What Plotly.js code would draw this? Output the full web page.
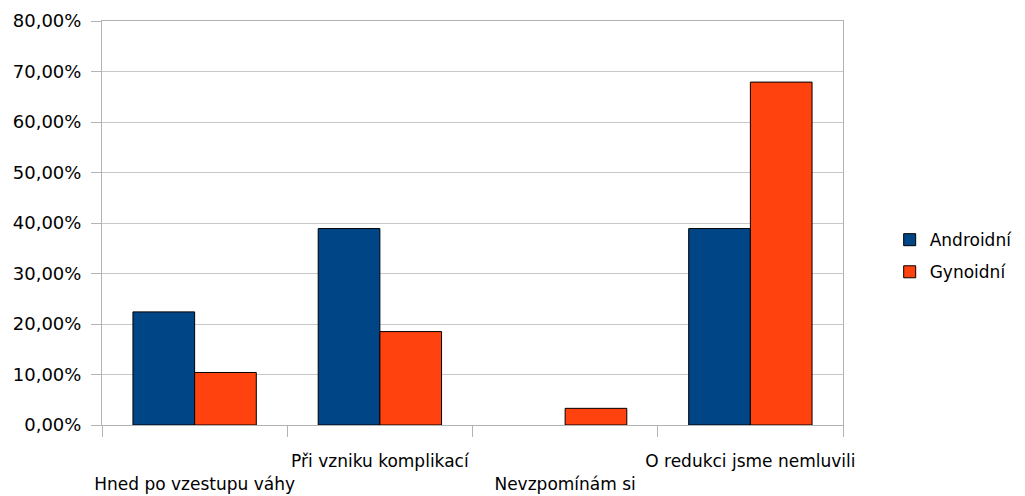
<!DOCTYPE html>
<html>
<head>
<meta charset="utf-8">
<script src="https://cdn.plot.ly/plotly-3.0.1.min.js"></script>
<style>
  html, body { margin: 0; padding: 0; background: #ffffff; }
  #chart { width: 1025px; height: 496px; }
</style>
</head>
<body>
<div id="chart"></div>
<script>
// Category labels (x axis)
const categories = [
  "Hned po vzestupu váhy",
  "Při vzniku komplikací",
  "Nevzpomínám si",
  "O redukci jsme nemluvili"
];

// Series names
const seriesNames = ["Androidní", "Gynoidní"];

// Shares per category (fractions of 1)
const androidni = [0.224, 0.389, 0, 0.389];
const gynoidni = [0.104, 0.185, 0.033, 0.679];

// Y axis tick values
const yTicks = [0, 0.1, 0.2, 0.3, 0.4, 0.5, 0.6, 0.7, 0.8];

const FONT = "DejaVu Sans, Verdana, sans-serif";
const AXIS_GREY = "#b3b3b3";
const GRID_GREY = "#c8c8c8";

// Labels alternate between two rows: even slots drop to the second line
const tickLabels = categories.map((c, i) => (i % 2 === 0 ? "<br>" + c : c));

// Zero-height bars get no outline so nothing is drawn on the baseline
const outlineFor = vals => vals.map(v => (v > 0 ? 1 : 0));

const traces = [
  {
    type: "bar",
    name: seriesNames[0],
    legendgroup: "a",
    x: categories,
    y: androidni,
    marker: { color: "#004586", line: { color: "#000000", width: outlineFor(androidni) } },
    hoverinfo: "skip"
  },
  {
    type: "bar",
    name: seriesNames[1],
    legendgroup: "b",
    x: categories,
    y: gynoidni,
    marker: { color: "#ff420e", line: { color: "#000000", width: outlineFor(gynoidni) } },
    hoverinfo: "skip"
  }
];

const layout = {
  width: 1025,
  height: 496,
  paper_bgcolor: "#ffffff",
  plot_bgcolor: "#ffffff",
  separators: ", ",
  font: { family: FONT, size: 17, color: "#000000" },
  margin: { l: 102, r: 182, t: 21, b: 71, pad: 0, autoexpand: false },
  barmode: "group",
  bargap: 0.334,
  bargroupgap: 0,
  showlegend: true,
  legend: {
    x: 1.063, xanchor: "left",
    y: 0.418, yanchor: "middle",
    traceorder: "grouped",
    tracegroupgap: 7,
    font: { family: FONT, size: 17, color: "#000000" },
    bgcolor: "rgba(0,0,0,0)",
    borderwidth: 0
  },
  xaxis: {
    type: "category",
    range: [-0.5, categories.length - 0.5],
    tickmode: "array",
    tickvals: categories,
    ticktext: tickLabels,
    tickangle: 0,
    tickson: "boundaries",
    ticks: "outside",
    ticklen: 11,
    tickwidth: 1,
    tickcolor: AXIS_GREY,
    ticklabelstandoff: 21,
    automargin: false,
    showline: true,
    linecolor: AXIS_GREY,
    linewidth: 1,
    mirror: true,
    showgrid: false,
    zeroline: false,
    tickfont: { family: FONT, size: 17, color: "#000000" }
  },
  yaxis: {
    range: [0, 0.8],
    tickmode: "array",
    tickvals: yTicks,
    tickformat: ".2%",
    ticks: "outside",
    ticklen: 10,
    tickwidth: 1,
    tickcolor: AXIS_GREY,
    ticklabelstandoff: 6,
    automargin: false,
    showline: true,
    linecolor: AXIS_GREY,
    linewidth: 1,
    mirror: true,
    showgrid: true,
    gridcolor: GRID_GREY,
    gridwidth: 1,
    zeroline: false,
    tickfont: { family: FONT, size: 18, color: "#000000" }
  }
};

Plotly.newPlot("chart", traces, layout, { displayModeBar: false, staticPlot: true });
</script>
</body>
</html>
